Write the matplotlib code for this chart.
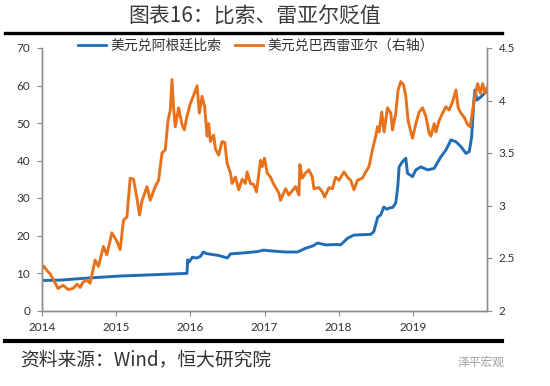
import matplotlib
matplotlib.use('Agg')
import matplotlib.pyplot as plt
from matplotlib.lines import Line2D

plt.rcParams['font.family'] = ['Noto Sans CJK SC', 'DejaVu Sans']

# time axis: years elapsed since the start of 2014
ars_t = [0.000, 0.243, 0.581, 1.054, 1.459, 1.955, 1.964, 1.986, 2.027, 2.081, 2.135,
         2.176, 2.216, 2.270, 2.378, 2.500, 2.541, 2.608, 2.743, 2.905, 2.986, 3.081,
         3.284, 3.446, 3.554, 3.649, 3.716, 3.824, 3.986, 4.027, 4.122, 4.203, 4.297,
         4.432, 4.473, 4.527, 4.568, 4.608, 4.649, 4.676, 4.730, 4.770, 4.797, 4.815,
         4.861, 4.905, 4.928, 4.996, 5.041, 5.108, 5.199, 5.288, 5.378, 5.446, 5.514,
         5.581, 5.649, 5.716, 5.761, 5.793, 5.820, 5.838, 5.865, 5.919, 5.986, 6.000]
ars = [8.0, 8.1, 8.6, 9.2, 9.5, 9.9, 13.5, 13.0, 14.2, 14.0, 14.4,
       15.6, 15.2, 15.0, 14.7, 14.0, 15.1, 15.2, 15.4, 15.7, 16.1, 15.9,
       15.6, 15.6, 16.6, 17.2, 18.0, 17.5, 17.6, 17.5, 19.3, 20.1, 20.2,
       20.3, 21.0, 24.9, 25.5, 27.6, 27.0, 27.3, 27.5, 28.7, 33.0, 38.3,
       39.7, 40.6, 36.6, 35.7, 37.5, 38.3, 37.5, 37.9, 41.0, 42.8, 45.5,
       45.0, 43.7, 41.9, 42.4, 46.3, 55.3, 58.8, 56.1, 57.0, 58.3, 58.7]

brl_t = [0.000, 0.027, 0.068, 0.108, 0.149, 0.216, 0.284, 0.351, 0.419, 0.473, 0.514,
         0.554, 0.604, 0.649, 0.716, 0.761, 0.828, 0.874, 0.942, 1.009, 1.054, 1.099,
         1.145, 1.189, 1.234, 1.280, 1.315, 1.347, 1.415, 1.459, 1.527, 1.572, 1.618,
         1.662, 1.699, 1.730, 1.753, 1.774, 1.797, 1.842, 1.888, 1.919, 1.955, 2.000,
         2.045, 2.091, 2.122, 2.158, 2.193, 2.226, 2.247, 2.270, 2.315, 2.338, 2.382,
         2.428, 2.464, 2.496, 2.541, 2.564, 2.608, 2.653, 2.699, 2.743, 2.766, 2.811,
         2.855, 2.892, 2.946, 2.969, 3.000, 3.036, 3.081, 3.126, 3.193, 3.216, 3.284,
         3.328, 3.374, 3.419, 3.464, 3.477, 3.509, 3.554, 3.599, 3.645, 3.666, 3.734,
         3.780, 3.811, 3.869, 3.915, 3.959, 4.004, 4.072, 4.118, 4.162, 4.207, 4.253,
         4.320, 4.365, 4.409, 4.455, 4.500, 4.523, 4.545, 4.581, 4.612, 4.658, 4.703,
         4.726, 4.770, 4.801, 4.838, 4.874, 4.905, 4.936, 4.973, 4.996, 5.041, 5.085,
         5.131, 5.176, 5.220, 5.243, 5.288, 5.311, 5.355, 5.401, 5.446, 5.491, 5.536,
         5.581, 5.612, 5.649, 5.693, 5.739, 5.774, 5.807, 5.838, 5.874, 5.909, 5.942,
         5.973, 6.000]
brl = [2.40, 2.42, 2.38, 2.35, 2.30, 2.21, 2.24, 2.20, 2.21, 2.25, 2.22,
       2.27, 2.29, 2.26, 2.48, 2.42, 2.61, 2.53, 2.74, 2.66, 2.58, 2.86,
       2.89, 3.26, 3.25, 3.07, 2.91, 3.04, 3.18, 3.05, 3.18, 3.24, 3.50,
       3.53, 3.81, 3.91, 4.20, 3.93, 3.75, 3.93, 3.77, 3.72, 3.85, 3.97,
       4.05, 4.14, 3.88, 4.04, 3.94, 3.66, 3.78, 3.61, 3.67, 3.54, 3.48,
       3.61, 3.60, 3.40, 3.31, 3.21, 3.27, 3.15, 3.25, 3.21, 3.32, 3.21,
       3.20, 3.13, 3.43, 3.37, 3.45, 3.31, 3.27, 3.20, 3.12, 3.05, 3.16,
       3.10, 3.14, 3.18, 3.10, 3.39, 3.26, 3.31, 3.34, 3.27, 3.16, 3.17,
       3.13, 3.08, 3.17, 3.16, 3.27, 3.24, 3.32, 3.27, 3.24, 3.15, 3.24,
       3.26, 3.32, 3.37, 3.53, 3.66, 3.75, 3.70, 3.89, 3.70, 3.93, 3.88,
       3.72, 3.88, 4.10, 4.18, 4.15, 4.04, 3.81, 3.70, 3.64, 3.78, 3.89,
       3.93, 3.85, 3.69, 3.66, 3.78, 3.70, 3.81, 3.88, 3.94, 3.91, 3.99,
       4.10, 3.93, 3.88, 3.84, 3.77, 3.75, 3.91, 4.04, 4.16, 4.07, 4.16,
       4.07, 4.12]

years = [2014, 2015, 2016, 2017, 2018, 2019]
left_ticks = [0, 10, 20, 30, 40, 50, 60, 70]
right_ticks = [2, 2.5, 3, 3.5, 4, 4.5]
right_labels = ['2', '2.5', '3', '3.5', '4', '4.5']

blue = '#1f6db5'
orange = '#e8721c'
grey = '#8c8c8c'
txt = '#333333'

fig = plt.figure(figsize=(5.5, 3.86), dpi=100)
ax = fig.add_axes([42 / 550, 1 - 310.5 / 386, 445 / 550, 262.5 / 386])
ax2 = ax.twinx()

ax.plot([2014 + t for t in ars_t], ars, color=blue, lw=2.1)
ax2.plot([2014 + t for t in brl_t], brl, color=orange, lw=2.1)

ax.set_xlim(2014, 2020)
ax.set_ylim(0, 70)
ax2.set_ylim(2, 4.5)
ax.set_xticks(years)
ax.set_xticklabels([str(y) for y in years])
ax.set_yticks(left_ticks)
ax2.set_yticks(right_ticks)
ax2.set_yticklabels(right_labels)

for a in (ax, ax2):
    a.spines['top'].set_visible(False)
    for s in ('left', 'right', 'bottom'):
        a.spines[s].set_color(grey)
        a.spines[s].set_linewidth(1)
    a.tick_params(colors=grey, labelcolor=txt, length=3.5, width=0.8,
                  labelsize=8.5, pad=5)
    for lab in a.get_xticklabels() + a.get_yticklabels():
        lab.set_family('Lato')

handles = [Line2D([], [], color=blue, lw=2), Line2D([], [], color=orange, lw=2)]
fig.legend(handles, ['美元兑阿根廷比索', '美元兑巴西雷亚尔（右轴）'],
           loc='center', bbox_to_anchor=(256 / 550, 1 - 46 / 386), ncol=2,
           frameon=False, fontsize=10, handlelength=2.0, handletextpad=0.3,
           columnspacing=1.0, labelcolor=txt)

# title and frame rules
fig.text(255 / 550, 1 - 17 / 386, '图表16：比索、雷亚尔贬值', ha='center', va='center',
         fontsize=15, color='#3a3a3a', fontweight='light')
fig.add_artist(Line2D([5 / 550, 502 / 550], [1 - 33 / 386] * 2, color='black', lw=2.4))
fig.add_artist(Line2D([5 / 550, 502 / 550], [1 - 341 / 386] * 2, color='black', lw=3))

fig.text(20 / 550, 1 - 360 / 386, '资料来源：Wind，恒大研究院', ha='left', va='center',
         fontsize=13.5, color=txt)
fig.text(505 / 550, 1 - 362 / 386, '泽平宏观', ha='right', va='center',
         fontsize=8.5, color='#a0a0a0')

fig.savefig('out.png', dpi=100)
